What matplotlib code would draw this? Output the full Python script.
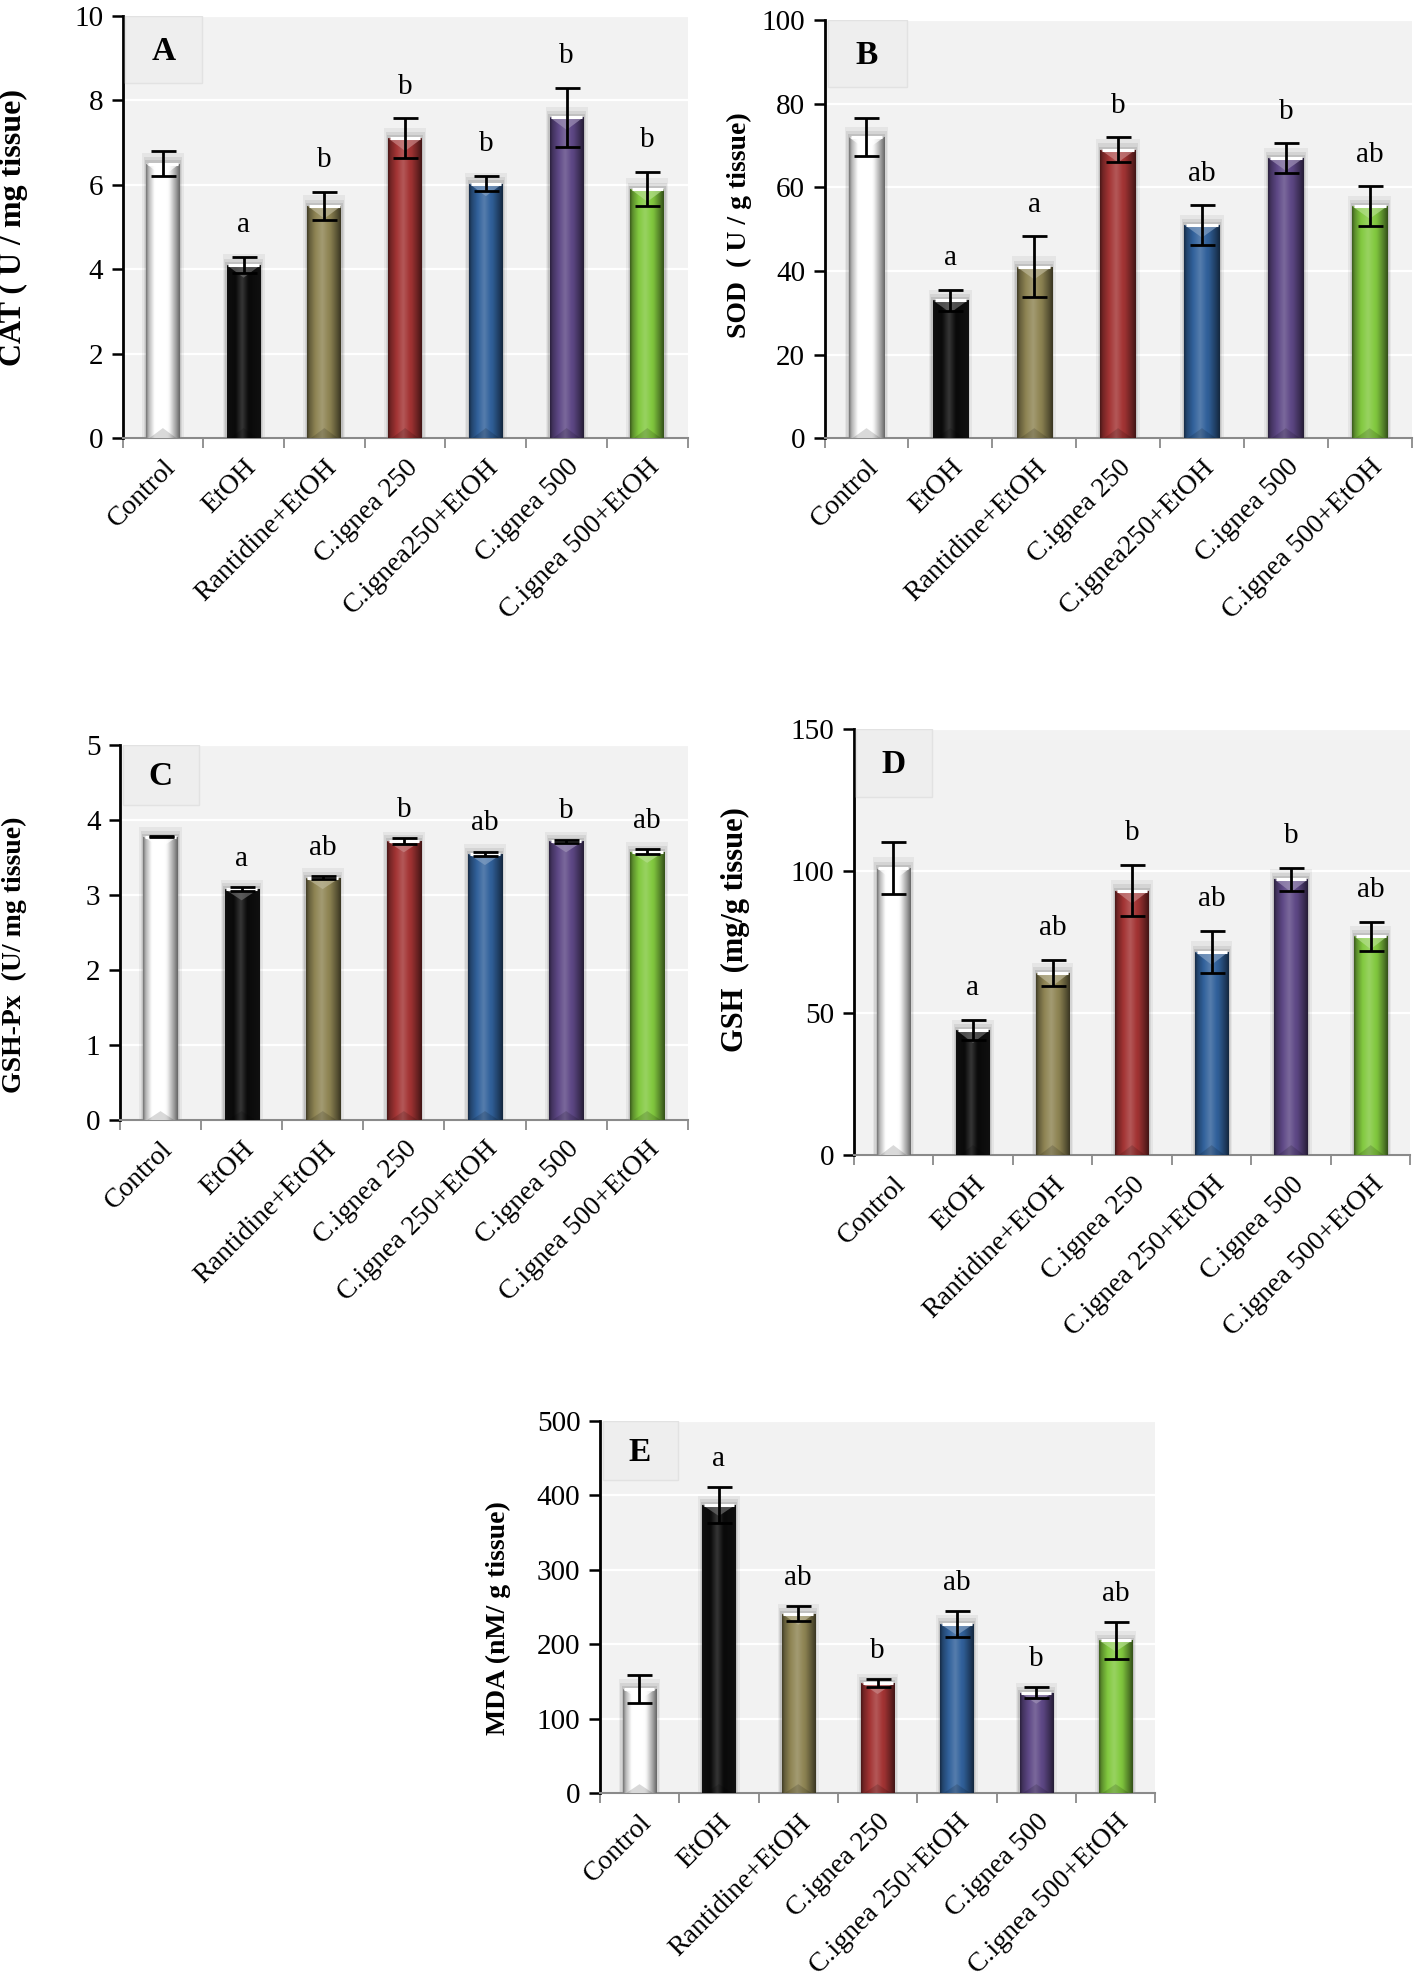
import numpy as np
import matplotlib
matplotlib.use("Agg")
import matplotlib.pyplot as plt
from matplotlib.colors import to_rgb
from matplotlib.patches import Rectangle, Polygon

plt.rcParams['font.family'] = ['Liberation Serif', 'DejaVu Serif']

groups_ab = ['Control', 'EtOH', 'Rantidine+EtOH', 'C.ignea 250', 'C.ignea250+EtOH',
             'C.ignea 500', 'C.ignea 500+EtOH']
groups_cde = ['Control', 'EtOH', 'Rantidine+EtOH', 'C.ignea 250', 'C.ignea 250+EtOH',
              'C.ignea 500', 'C.ignea 500+EtOH']
bar_colors = ['#ffffff', '#0a0a0a', '#8f8554', '#a33434', '#31619b', '#5e4886', '#82c93f']

cat_mean = [6.5, 4.1, 5.5, 7.1, 6.03, 7.6, 5.9]
cat_err = [0.3, 0.2, 0.33, 0.47, 0.18, 0.7, 0.4]
cat_sig = ['', 'a', 'b', 'b', 'b', 'b', 'b']

sod_mean = [72, 33, 41, 69, 51, 67, 55.5]
sod_err = [4.5, 2.5, 7.3, 3.0, 4.8, 3.5, 4.8]
sod_sig = ['', 'a', 'a', 'b', 'ab', 'b', 'ab']

gpx_mean = [3.78, 3.08, 3.23, 3.72, 3.55, 3.72, 3.58]
gpx_err = [0.01, 0.03, 0.02, 0.04, 0.03, 0.02, 0.03]
gpx_sig = ['', 'a', 'ab', 'b', 'ab', 'b', 'ab']

gsh_mean = [101, 44, 64, 93, 71.5, 97, 77]
gsh_err = [9, 3.5, 4.5, 9, 7.5, 4, 5]
gsh_sig = ['', 'a', 'ab', 'b', 'ab', 'b', 'ab']

mda_mean = [140, 387, 241, 148, 227, 135, 205]
mda_err = [19, 24, 10, 5, 17, 8, 25]
mda_sig = ['', 'a', 'ab', 'b', 'ab', 'b', 'ab']


def bar_gradient(color, n=80):
    base = np.array(to_rgb(color))
    t = np.linspace(0, 1, n)
    k = np.interp(t, [0, 0.07, 0.25, 0.45, 0.7, 0.9, 1], [0.45, 0.7, 1.0, 1.15, 0.95, 0.6, 0.4])
    rgb = np.empty((n, 3))
    for i, kk in enumerate(k):
        if kk >= 1:
            rgb[i] = base + (1 - base) * (kk - 1) * 1.2
        else:
            rgb[i] = base * kk + 0.08 * (1 - kk) * (base.mean() < 0.1)
    return np.clip(rgb, 0, 1)[None, :, :]


def draw_panel(rect, labels, means, errs, sigs, ymax, step, ylabel, letter, ylab_pos, ylab_size):
    ax = fig.add_axes(rect)
    ax.set_facecolor('#f2f2f2')
    x = np.arange(len(means))
    width = 0.42
    # soft shadow behind the bars
    for grow, a in [(0.1, 0.05), (0.06, 0.07), (0.03, 0.09)]:
        ax.bar(x, np.array(means) + grow * ymax * 0.25, width + grow, color='black', alpha=a,
               zorder=2, linewidth=0)
    bars = ax.bar(x, means, width, color=bar_colors, zorder=3, linewidth=0)
    bev = 0.03 * ymax
    for b, col in zip(bars, bar_colors):
        bx, bw, bh = b.get_x(), b.get_width(), b.get_height()
        im = ax.imshow(bar_gradient(col), extent=[bx, bx + bw, 0, bh], aspect='auto',
                       zorder=3.5, interpolation='bicubic')
        im.set_clip_path(b)
        light = np.clip(np.array(to_rgb(col)) * 0.6 + 0.4, 0, 1)
        ax.add_patch(Polygon([(bx, bh), (bx + bw, bh), (bx + bw / 2, bh - bev)],
                             closed=True, facecolor=light, alpha=0.7, edgecolor='none', zorder=3.6))
        ax.add_patch(Polygon([(bx + bw * 0.1, 0), (bx + bw * 0.9, 0), (bx + bw / 2, bev * 0.8)],
                             closed=True, facecolor='black', alpha=0.15, edgecolor='none', zorder=3.6))
        ax.plot([bx + bw * 0.05, bx + bw * 0.95], [bh, bh], color='white', lw=2.2, zorder=3.7,
                solid_capstyle='butt')
    ax.errorbar(x, means, yerr=errs, fmt='none', ecolor='black', elinewidth=2,
                capsize=9, capthick=2, zorder=5)
    for xi, m, e, s in zip(x, means, errs, sigs):
        if s:
            ax.text(xi, m + e + 0.075 * ymax, s, ha='center', va='center', fontsize=21, zorder=6)
    ax.set_xlim(-0.5, len(means) - 0.5)
    ax.set_ylim(0, ymax)
    ax.set_yticks(np.arange(0, ymax + step / 2, step))
    ax.yaxis.grid(True, color='white', lw=1.6, zorder=1)
    ax.set_axisbelow(True)
    ax.set_xticks(x)
    ax.set_xticklabels(labels, rotation=45, ha='right', va='top', rotation_mode='anchor',
                       fontsize=20)
    ax.tick_params(axis='x', length=0, pad=12)
    ax.set_xticks(np.arange(-0.5, len(means), 1), minor=True)
    ax.tick_params(axis='x', which='minor', length=7, width=1.3, color='#8a8a8a', direction='out')
    ax.tick_params(axis='y', length=8, width=1.8, labelsize=21, pad=6, direction='out')
    for sp in ['top', 'right']:
        ax.spines[sp].set_visible(False)
    ax.spines['left'].set_linewidth(2)
    ax.spines['bottom'].set_color('#8a8a8a')
    ax.spines['bottom'].set_linewidth(1.5)
    ax.set_ylabel(ylabel, fontsize=ylab_size, fontweight='bold')
    ax.yaxis.set_label_coords(*ylab_pos)
    ax.add_patch(Rectangle((0.005, 0.84), 0.135, 0.16, transform=ax.transAxes,
                           facecolor='#eeeeee', edgecolor='#e2e2e2', lw=1, zorder=4))
    ax.text(0.072, 0.915, letter, transform=ax.transAxes, ha='center', va='center',
            fontsize=24, fontweight='bold', zorder=6)
    return ax


fig = plt.figure(figsize=(14.18, 19.8), dpi=100)
fig.patch.set_facecolor('white')

draw_panel([0.0864, 0.7787, 0.3986, 0.2133], groups_ab, cat_mean, cat_err, cat_sig,
           10, 2, 'CAT ( U / mg tissue)', 'A', (-0.167, 0.5), 23)
draw_panel([0.5815, 0.7787, 0.414, 0.2111], groups_ab, sod_mean, sod_err, sod_sig,
           100, 20, 'SOD  ( U / g tissue)', 'B', (-0.123, 0.51), 20)
draw_panel([0.0846, 0.4343, 0.4004, 0.1894], groups_cde, gpx_mean, gpx_err, gpx_sig,
           5, 1, 'GSH-Px  (U/ mg tissue)', 'C', (-0.164, 0.44), 20)
draw_panel([0.602, 0.4165, 0.3927, 0.2155], groups_cde, gsh_mean, gsh_err, gsh_sig,
           150, 50, 'GSH  (mg/g tissue)', 'D', (-0.186, 0.53), 22)
draw_panel([0.423, 0.0944, 0.3918, 0.1881], groups_cde, mda_mean, mda_err, mda_sig,
           500, 100, 'MDA (nM/ g tissue)', 'E', (-0.16, 0.47), 20)

fig.savefig('out.png', dpi=100, facecolor='white')
